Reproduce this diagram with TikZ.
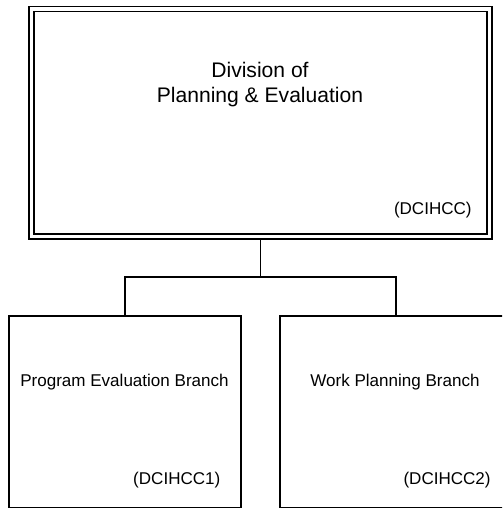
\documentclass[tikz,border=0pt]{standalone}
\usepackage{fontspec}
\setmainfont{Liberation Sans}
\usepackage{tikz}
\usetikzlibrary{positioning}

\tikzset{
  office/.style={draw, line width=0.9pt, double, double distance=1.95pt, inner sep=0pt, outer sep=1.9pt},
  branch/.style={draw, line width=0.9pt, inner sep=0pt, outer sep=0.45pt, minimum width=4.63cm, minimum height=3.84cm},
  title/.style={inner sep=0pt, align=center, font=\fontsize{12}{14.2}\selectfont},
  label/.style={inner sep=0pt, font=\fontsize{9.7}{11.6}\selectfont},
  link/.style={line width=0.9pt}
}

\begin{document}
\begin{tikzpicture}
\clip (0, 0) rectangle (10.04, 10.16);

% boxes
\node[office, minimum width=9.16cm, minimum height=4.55cm] (div) at (5.206, 7.705) {};
\node[branch] (peb) at (2.5, 1.92) {};
\node[branch] (wpb) at (7.92, 1.92) {};

% texts
\node[title] (divname) at (5.2, 8.476) {Division of\\Planning \& Evaluation};
\node[label, anchor=base east] (divcode) at (9.44, 5.86) {(DCIHCC)};
\node[label, anchor=base] (pebname) at (2.49, 2.426) {Program Evaluation Branch};
\node[label, anchor=base east] (pebcode) at (4.414, 0.48) {(DCIHCC1)};
\node[label, anchor=base] (wpbname) at (7.9, 2.426) {Work Planning Branch};
\node[label, anchor=base east] (wpbcode) at (9.82, 0.48) {(DCIHCC2)};

% connectors
\coordinate (split) at (5.206, 4.62);
\draw[link] (div.south) -- (split);
\draw[link] (peb.north) |- (split) -| (wpb.north);
\end{tikzpicture}
\end{document}
